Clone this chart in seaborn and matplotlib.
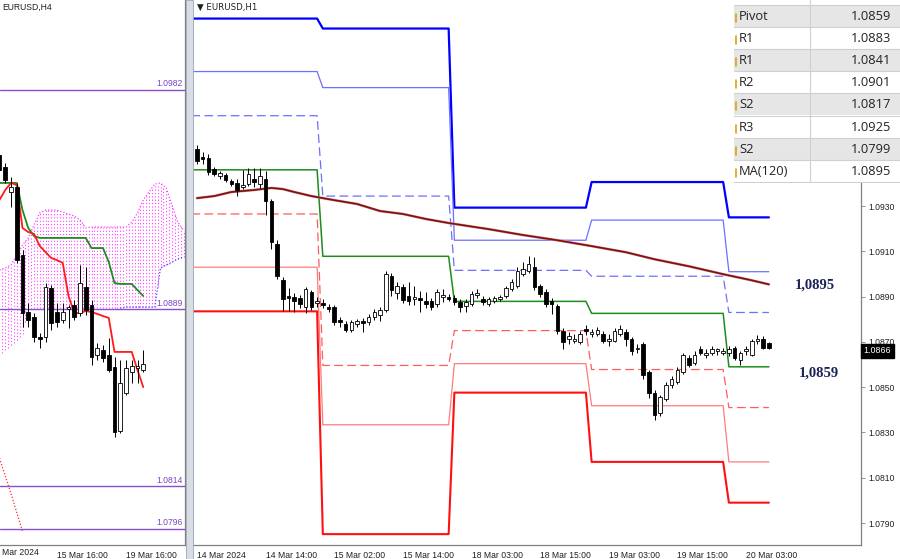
import numpy as np
import matplotlib
matplotlib.use('Agg')
import matplotlib.pyplot as plt
import matplotlib.transforms as mtransforms
from matplotlib.patches import Rectangle
import seaborn as sns

sns.set_style('white')
plt.rcParams['font.family'] = ['Liberation Sans', 'DejaVu Sans']

# ---------------- EURUSD H1 (right panel) ----------------
h1_open = [1.09553, 1.09517, 1.09513, 1.09464, 1.09433, 1.09437, 1.09411, 1.09402, 1.09384, 1.09397,
           1.09420, 1.09397, 1.09420, 1.09322, 1.09132, 1.08972, 1.08901, 1.08897, 1.08892, 1.08853,
           1.08919, 1.08870, 1.08870, 1.08853, 1.08853, 1.08795, 1.08777, 1.08751, 1.08777, 1.08791,
           1.08786, 1.08808, 1.08817, 1.08839, 1.08990, 1.08915, 1.08941, 1.08901, 1.08888, 1.08892,
           1.08879, 1.08879, 1.08866, 1.08897, 1.08897, 1.08892, 1.08875, 1.08857, 1.08866, 1.08906,
           1.08888, 1.08866, 1.08879, 1.08888, 1.08901, 1.08932, 1.08946, 1.08999, 1.09012, 1.09030,
           1.08946, 1.08919, 1.08879, 1.08857, 1.08746, 1.08711, 1.08706, 1.08698, 1.08755, 1.08733,
           1.08737, 1.08733, 1.08706, 1.08706, 1.08733, 1.08742, 1.08711, 1.08667, 1.08689, 1.08569,
           1.08476, 1.08387, 1.08449, 1.08511, 1.08525, 1.08569, 1.08627, 1.08609, 1.08667, 1.08644,
           1.08653, 1.08658, 1.08653, 1.08649, 1.08671, 1.08622, 1.08658, 1.08644, 1.08702, 1.08715,
           1.08693]
h1_close = [1.09499, 1.09508, 1.09451, 1.09442, 1.09446, 1.09415, 1.09397, 1.09371, 1.09393, 1.09442,
            1.09406, 1.09433, 1.09322, 1.09141, 1.08990, 1.08888, 1.08892, 1.08879, 1.08866, 1.08932,
            1.08853, 1.08879, 1.08861, 1.08844, 1.08786, 1.08786, 1.08751, 1.08786, 1.08791, 1.08782,
            1.08808, 1.08830, 1.08839, 1.08999, 1.08928, 1.08946, 1.08884, 1.08879, 1.08897, 1.08884,
            1.08866, 1.08853, 1.08919, 1.08906, 1.08888, 1.08875, 1.08853, 1.08875, 1.08910, 1.08915,
            1.08875, 1.08888, 1.08892, 1.08897, 1.08937, 1.08963, 1.09012, 1.09021, 1.09043, 1.08941,
            1.08910, 1.08866, 1.08866, 1.08746, 1.08698, 1.08724, 1.08715, 1.08737, 1.08746, 1.08742,
            1.08751, 1.08706, 1.08715, 1.08746, 1.08755, 1.08711, 1.08658, 1.08675, 1.08556, 1.08476,
            1.08379, 1.08458, 1.08511, 1.08534, 1.08578, 1.08640, 1.08600, 1.08644, 1.08653, 1.08653,
            1.08667, 1.08667, 1.08662, 1.08667, 1.08631, 1.08653, 1.08667, 1.08702, 1.08711, 1.08675,
            1.08675]
h1_high = [1.09570, 1.09539, 1.09530, 1.09473, 1.09455, 1.09446, 1.09420, 1.09420, 1.09460, 1.09468,
           1.09468, 1.09468, 1.09455, 1.09331, 1.09149, 1.08985, 1.08937, 1.08915, 1.08906, 1.08941,
           1.08928, 1.08897, 1.08888, 1.08866, 1.08861, 1.08808, 1.08791, 1.08795, 1.08799, 1.08804,
           1.08822, 1.08844, 1.08853, 1.09012, 1.09003, 1.08963, 1.08954, 1.08963, 1.08946, 1.08923,
           1.08919, 1.08892, 1.08932, 1.08932, 1.08910, 1.08906, 1.08888, 1.08888, 1.08923, 1.08932,
           1.08901, 1.08897, 1.08901, 1.08906, 1.08946, 1.08977, 1.09030, 1.09052, 1.09079, 1.09074,
           1.08954, 1.08932, 1.08892, 1.08866, 1.08760, 1.08742, 1.08733, 1.08746, 1.08773, 1.08755,
           1.08764, 1.08746, 1.08733, 1.08760, 1.08773, 1.08755, 1.08720, 1.08689, 1.08698, 1.08578,
           1.08489, 1.08467, 1.08525, 1.08551, 1.08591, 1.08653, 1.08640, 1.08658, 1.08684, 1.08667,
           1.08680, 1.08675, 1.08675, 1.08680, 1.08680, 1.08662, 1.08680, 1.08711, 1.08729, 1.08724,
           1.08698]
h1_low = [1.09486, 1.09486, 1.09437, 1.09433, 1.09420, 1.09406, 1.09389, 1.09344, 1.09375, 1.09389,
          1.09384, 1.09380, 1.09260, 1.09110, 1.08977, 1.08835, 1.08835, 1.08830, 1.08848, 1.08826,
          1.08839, 1.08853, 1.08848, 1.08830, 1.08773, 1.08768, 1.08742, 1.08742, 1.08768, 1.08742,
          1.08773, 1.08795, 1.08791, 1.08830, 1.08901, 1.08888, 1.08870, 1.08861, 1.08861, 1.08830,
          1.08848, 1.08839, 1.08853, 1.08875, 1.08879, 1.08861, 1.08830, 1.08830, 1.08857, 1.08892,
          1.08861, 1.08857, 1.08870, 1.08879, 1.08892, 1.08923, 1.08937, 1.08990, 1.09003, 1.08928,
          1.08897, 1.08853, 1.08822, 1.08733, 1.08667, 1.08689, 1.08693, 1.08689, 1.08729, 1.08720,
          1.08724, 1.08693, 1.08680, 1.08698, 1.08724, 1.08684, 1.08644, 1.08653, 1.08534, 1.08454,
          1.08356, 1.08374, 1.08441, 1.08498, 1.08516, 1.08560, 1.08587, 1.08596, 1.08640, 1.08631,
          1.08640, 1.08640, 1.08640, 1.08636, 1.08622, 1.08596, 1.08644, 1.08636, 1.08689, 1.08667,
          1.08667]

# daily pivot levels, one value per trading day
day_start = [-1, 22, 45, 69, 93]
day_end = [21, 44, 68, 92, 100]
r3 = [1.10128, 1.10084, 1.09293, 1.09406, 1.0925]
r2 = [1.09894, 1.09823, 1.09149, 1.09238, 1.0901]
r1 = [1.09699, 1.09344, 1.09016, 1.08990, 1.0883]
pivot = [1.09460, 1.09078, 1.08879, 1.08826, 1.0859]
s1 = [1.09265, 1.08596, 1.08750, 1.08578, 1.0841]
s2 = [1.09030, 1.08334, 1.08604, 1.08418, 1.0817]
s3 = [1.08835, 1.07851, 1.08476, 1.08170, 1.0799]

ma_idx = [0, 3, 6, 10, 13, 15, 17, 20, 24, 28, 32, 36, 40, 44, 51, 57, 63, 69, 75, 80, 86, 92, 97, 100]
ma_val = [1.09335, 1.09344, 1.09362, 1.09371, 1.09380, 1.09375, 1.09362, 1.09344, 1.09326, 1.09309,
          1.09278, 1.09265, 1.09243, 1.09225, 1.09198, 1.09172, 1.09149, 1.09123, 1.09096, 1.09065,
          1.09034, 1.08999, 1.08972, 1.08954]

h1_ticks = [0, 12, 24, 36, 48, 60, 72, 84, 96]
h1_tick_labels = ['14 Mar 2024', '14 Mar 14:00', '15 Mar 02:00', '15 Mar 14:00', '18 Mar 03:00',
                  '18 Mar 15:00', '19 Mar 03:00', '19 Mar 15:00', '20 Mar 03:00']
price_ticks = [1.0790, 1.0810, 1.0830, 1.0850, 1.0870, 1.0890, 1.0910, 1.0930]
last_price = 1.0866

table_names = ['Pivot', 'R1', 'R1', 'R2', 'S2', 'R3', 'S2', 'MA(120)']
table_values = ['1.0859', '1.0883', '1.0841', '1.0901', '1.0817', '1.0925', '1.0799', '1.0895']

# ---------------- EURUSD H4 (left panel) ----------------
h4_open = [1.09544, 1.09493, 1.09388, 1.09409, 1.09121, 1.08879, 1.08858, 1.08773, 1.08773, 1.08981,
           1.08879, 1.08845, 1.08892, 1.08909, 1.08875, 1.08985, 1.08909, 1.08697, 1.08718, 1.08697,
           1.08646, 1.08375, 1.08536, 1.08625, 1.08642, 1.08633]
h4_close = [1.09481, 1.09438, 1.09409, 1.09099, 1.08875, 1.08845, 1.08773, 1.08765, 1.08985, 1.08832,
            1.08837, 1.08879, 1.08900, 1.08858, 1.09002, 1.08888, 1.08688, 1.08727, 1.08684, 1.08633,
            1.08371, 1.08578, 1.08642, 1.08650, 1.08650, 1.08659]
h4_high = [1.09565, 1.09510, 1.09451, 1.09426, 1.09142, 1.08917, 1.08875, 1.08790, 1.09002, 1.08993,
           1.08917, 1.08917, 1.08909, 1.08930, 1.09078, 1.09070, 1.08930, 1.08748, 1.08739, 1.08769,
           1.08688, 1.08676, 1.08676, 1.08676, 1.08676, 1.08718]
h4_low = [1.09472, 1.09426, 1.09324, 1.09087, 1.08816, 1.08816, 1.08752, 1.08727, 1.08752, 1.08803,
          1.08816, 1.08832, 1.08811, 1.08845, 1.08862, 1.08866, 1.08654, 1.08676, 1.08667, 1.08625,
          1.08349, 1.08366, 1.08527, 1.08578, 1.08578, 1.08625]
tenkan = [1.09354, 1.09396, 1.09426, 1.09417, 1.09235, 1.09218, 1.09210, 1.09159, 1.09133, 1.09108,
          1.09099, 1.09087, 1.08947, 1.08875, 1.08875, 1.08883, 1.08879, 1.08871, 1.08862, 1.08854,
          1.08710, 1.08710, 1.08710, 1.08710, 1.08633, 1.08561]
kijun = [1.09426, 1.09426, 1.09426, 1.09426, 1.09311, 1.09235, 1.09201, 1.09193, 1.09193, 1.09193,
         1.09193, 1.09193, 1.09193, 1.09193, 1.09193, 1.09193, 1.09150, 1.09150, 1.09150, 1.09091,
         1.09002, 1.08998, 1.08998, 1.08998, 1.08972, 1.08947]
cloud_top = [1.09057, 1.09066, 1.09078, 1.09121, 1.09163, 1.09193, 1.09248, 1.09299, 1.09311, 1.09311,
             1.09311, 1.09303, 1.09294, 1.09286, 1.09269, 1.09235, 1.09239, 1.09239, 1.09239, 1.09239,
             1.09239, 1.09239, 1.09239, 1.09260, 1.09299, 1.09354, 1.09388, 1.09421, 1.09426, 1.09404,
             1.09332, 1.09260, 1.09226]
cloud_bottom = [1.08693, 1.08718, 1.08739, 1.08760, 1.08786, 1.08888, 1.08896, 1.08896, 1.08896, 1.08896,
                1.08896, 1.08896, 1.08896, 1.08896, 1.08896, 1.08896, 1.08896, 1.08896, 1.08896, 1.08896,
                1.08896, 1.08896, 1.08900, 1.08900, 1.08900, 1.08900, 1.08900, 1.08900, 1.09066, 1.09078,
                1.09091, 1.09104, 1.09112]
chikou_idx = [0, 2, 4]
chikou_val = [1.08260, 1.08110, 1.07950]
h4_levels = [1.0982, 1.0889, 1.0814, 1.0796]
h4_ticks = [10, 22]
h4_tick_labels = ['15 Mar 16:00', '19 Mar 16:00']

W, H = 900, 559
fig = plt.figure(figsize=(W / 100, H / 100), dpi=100)
fig.patch.set_facecolor('white')

axL = fig.add_axes([0, 14 / H, 185 / W, 545 / H])
axR = fig.add_axes([193 / W, 14 / H, (861 - 193) / W, 545 / H])
AX_COL = '#808080'
for ax in (axL, axR):
    ax.set_facecolor('white')
    for side in ('left', 'top'):
        ax.spines[side].set_visible(False)
    for side in ('right', 'bottom'):
        ax.spines[side].set_color(AX_COL)
        ax.spines[side].set_linewidth(0.9)
    ax.tick_params(axis='x', direction='out', length=3, width=0.6, color=AX_COL,
                   labelsize=6.2, pad=1.5, labelcolor='#202020')


def draw_candles(ax, o, h, l, c, width):
    x = np.arange(len(o))
    o, h, l, c = map(np.asarray, (o, h, l, c))
    ax.vlines(x, l, h, color='black', lw=0.7, zorder=5)
    bottom = np.minimum(o, c)
    height = np.maximum(np.abs(c - o), 0.000012)
    colors = ['black' if cc < oo else 'white' for oo, cc in zip(o, c)]
    ax.bar(x, height, bottom=bottom, width=width, color=colors, edgecolor='black',
           linewidth=0.6, zorder=6)


def step_points(values):
    xs, ys = [], []
    for s, e, v in zip(day_start, day_end, values):
        xs += [s, e]
        ys += [v, v]
    return xs, ys


# ---------- right panel ----------
level_styles = [
    (r3, '#0000ff', 1.6, '-'),
    (r2, '#6e6eff', 0.9, '-'),
    (r1, '#6e6eff', 0.9, (0, (7, 3.5))),
    (pivot, '#1e8c1e', 1.1, '-'),
    (s1, '#ff5c5c', 0.9, (0, (7, 3.5))),
    (s2, '#ff7c7c', 0.9, '-'),
    (s3, '#ff1010', 1.5, '-'),
]
for vals, col, lw, ls in level_styles:
    xs, ys = step_points(vals)
    sns.lineplot(x=xs, y=ys, ax=axR, color=col, linewidth=lw, linestyle=ls,
                 estimator=None, sort=False, zorder=3)

sns.lineplot(x=ma_idx, y=ma_val, ax=axR, color='#d89090', linewidth=1.9, estimator=None, zorder=3)
sns.lineplot(x=ma_idx, y=ma_val, ax=axR, color='#7e1010', linewidth=1.2, estimator=None, zorder=4)

draw_candles(axR, h1_open, h1_high, h1_low, h1_close, 0.62)

axR.set_xlim(-0.7, 116.1)
axR.set_ylim(1.07803, 1.10210)
axR.yaxis.tick_right()
axR.set_yticks(price_ticks, [f'{v:.4f}' for v in price_ticks])
axR.tick_params(axis='y', direction='out', length=3, width=0.6, color=AX_COL,
                labelsize=6.2, pad=2, labelcolor='#202020')
axR.set_xticks(h1_ticks, h1_tick_labels, ha='left')
axR.set_xlabel('')
axR.set_ylabel('')

trans = mtransforms.blended_transform_factory(axR.transAxes, axR.transData)
axR.text(1.004, last_price, f'{last_price:.4f}', transform=trans, ha='left', va='center',
         fontsize=6.4, color='white', zorder=10, clip_on=False,
         bbox=dict(boxstyle='square,pad=0.3', fc='black', ec='black'))

axR.text(108, ma_val[-1] - 0.00004, '1,0895', ha='center', va='center', fontsize=10.5,
         fontweight='bold', color='#1c2356', family=['Liberation Serif', 'DejaVu Serif'])
axR.text(108.7, pivot[-1] - 0.00028, '1,0859', ha='center', va='center', fontsize=10.5,
         fontweight='bold', color='#1c2356', family=['Liberation Serif', 'DejaVu Serif'])

# ---------- left panel ----------
jj = np.arange(len(cloud_top))
xf = np.arange(0, len(cloud_top) - 1 + 0.01, 0.5)
top_f = np.interp(xf, jj, cloud_top)
bot_f = np.interp(xf, jj, cloud_bottom)
axL.vlines(xf, bot_f, top_f, colors='#ff40ff', linestyles=(0, (1, 2)), linewidth=0.8, zorder=1)
sns.lineplot(x=jj, y=cloud_top, ax=axL, color='#ff40ff', linewidth=0.9, linestyle=(0, (1, 1.5)),
             estimator=None, zorder=2)
sns.lineplot(x=jj[21:], y=cloud_bottom[21:], ax=axL, color='#4a4aff', linewidth=0.9,
             linestyle=(0, (1, 1.5)), estimator=None, zorder=2)
sns.lineplot(x=chikou_idx, y=chikou_val, ax=axL, color='#ff3030', linewidth=0.9,
             linestyle=(0, (1, 1.5)), estimator=None, zorder=2)

for lv in h4_levels:
    axL.axhline(lv, color='#8a4fcf', lw=1.0, zorder=2)
    axL.text(31.9, lv + 0.00007, f'{lv:.4f}', ha='right', va='bottom', fontsize=6.2,
             color='#7a45c0', zorder=3)

jc = np.arange(len(tenkan))
sns.lineplot(x=jc, y=kijun, ax=axL, color='#1e8c1e', linewidth=1.3, estimator=None, zorder=4)
sns.lineplot(x=jc, y=tenkan, ax=axL, color='#ff1a1a', linewidth=1.3, estimator=None, zorder=4)

draw_candles(axL, h4_open, h4_high, h4_low, h4_close, 0.62)

axL.set_xlim(0.087, 32.26)
axL.set_ylim(1.07892, 1.10201)
axL.set_yticks([])
axL.set_xticks(h4_ticks, h4_tick_labels, ha='left')
axL.set_xlabel('')
axL.set_ylabel('')
axL.text(2 / 185, -0.006, 'Mar 2024', transform=axL.transAxes, ha='left', va='top',
         fontsize=6.2, color='#202020')

# panel titles
fig.text(2 / W, 1 - 7 / H, 'EURUSD,H4', fontsize=6.2, color='#202020', va='center')
fig.text(197 / W, 1 - 7 / H, '\u25bc EURUSD,H1', fontsize=6.2, color='#202020', va='center',
         family=['DejaVu Sans'])

# window divider between the two charts
fig.patches.append(Rectangle((186 / W, 0), 7 / W, 1, transform=fig.transFigure,
                             facecolor='#d8dde4', edgecolor='#9aa6b6', lw=0.6, zorder=0))

# ---------- data window table ----------
axT = fig.add_axes([734 / W, 1 - 183 / H, 166 / W, 183 / H])
axT.set_xlim(0, 166)
axT.set_ylim(183, 0)
axT.axis('off')
axT.add_patch(Rectangle((0, 0), 166, 183, facecolor='white', edgecolor='none'))
row_h = 22.1
for k, (name, val) in enumerate(zip(table_names, table_values)):
    y0 = 5 + k * row_h
    fc = '#e6e6e6' if k % 2 == 0 else 'white'
    axT.add_patch(Rectangle((0, y0), 166, row_h, facecolor=fc, edgecolor='none'))
    axT.plot([0, 166], [y0, y0], color='#d0d0d0', lw=0.8)
    axT.plot([1.5, 1.5], [y0 + 9, y0 + 17], color='#e0a010', lw=1.2)
    axT.text(5, y0 + row_h / 2 + 0.5, name, ha='left', va='center', fontsize=9.3,
             color='#222222', family=['Open Sans', 'DejaVu Sans'])
    axT.text(157, y0 + row_h / 2 + 0.5, val, ha='right', va='center', fontsize=9.3,
             color='#222222', family=['Open Sans', 'DejaVu Sans'])
axT.plot([0, 166], [5 + 8 * row_h, 5 + 8 * row_h], color='#d0d0d0', lw=0.8)
axT.plot([76, 76], [0, 5 + 8 * row_h], color='#d0d0d0', lw=0.8)

fig.savefig('out.png', dpi=100, facecolor='white')
